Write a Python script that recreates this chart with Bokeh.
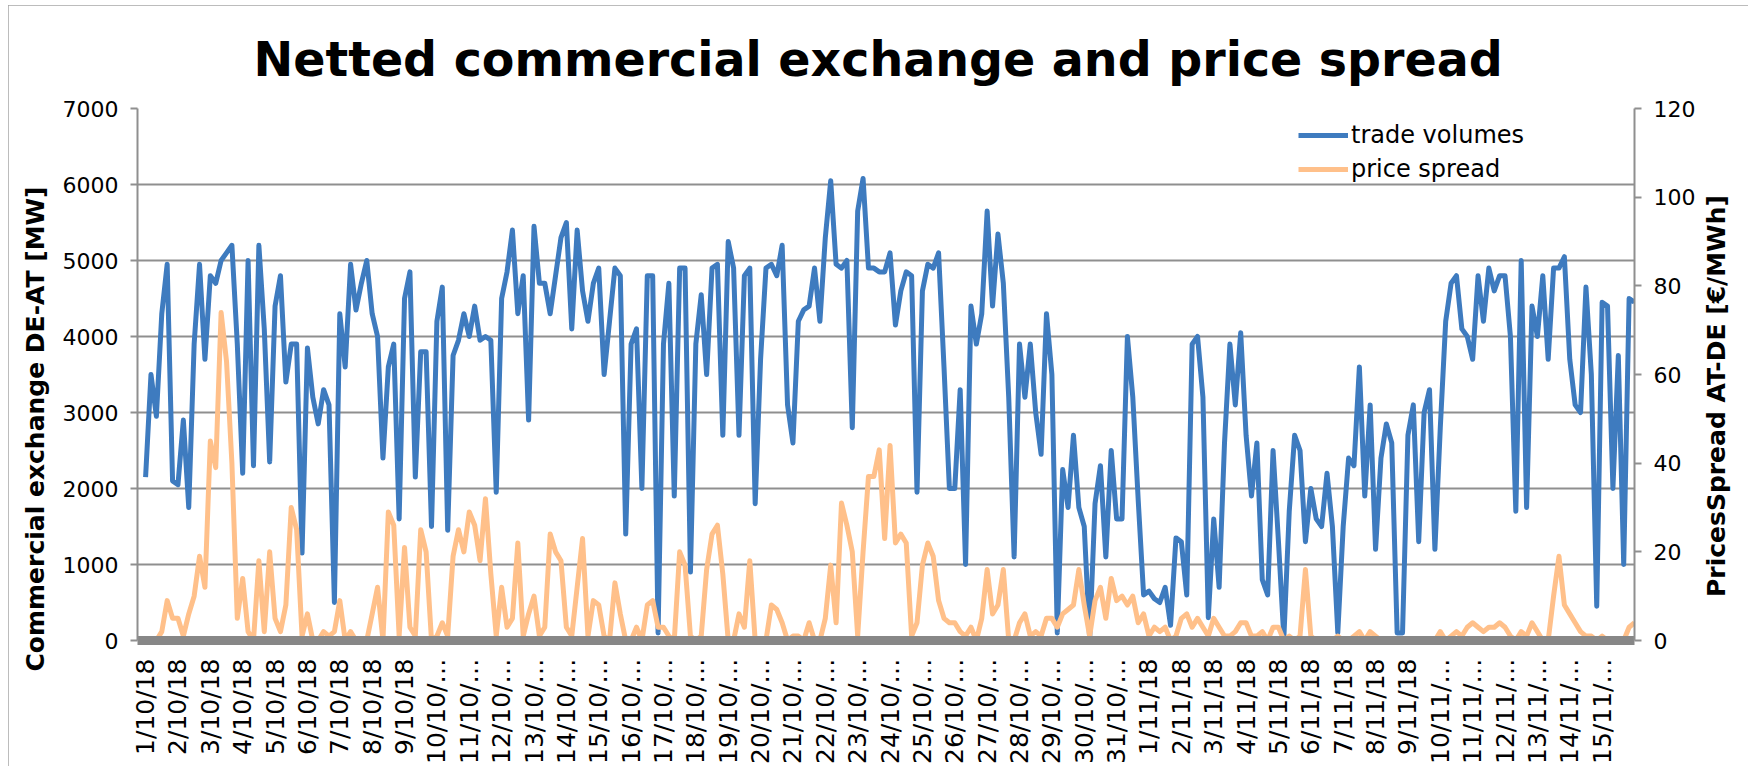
import math
from bokeh.plotting import figure
from bokeh.models import (Range1d, LinearAxis, FixedTicker, Legend, LegendItem,
                          ColumnDataSource, Title)
from bokeh.embed import file_html
from bokeh.resources import INLINE

# ---------------- data ----------------
day_labels = [
    "1/10/18", "2/10/18", "3/10/18", "4/10/18", "5/10/18", "6/10/18", "7/10/18",
    "8/10/18", "9/10/18", "10/10/…", "11/10/…", "12/10/…", "13/10/…", "14/10/…",
    "15/10/…", "16/10/…", "17/10/…", "18/10/…", "19/10/…", "20/10/…", "21/10/…",
    "22/10/…", "23/10/…", "24/10/…", "25/10/…", "26/10/…", "27/10/…", "28/10/…",
    "29/10/…", "30/10/…", "31/10/…", "1/11/18", "2/11/18", "3/11/18", "4/11/18",
    "5/11/18", "6/11/18", "7/11/18", "8/11/18", "9/11/18", "10/11/…", "11/11/…",
    "12/11/…", "13/11/…", "14/11/…", "15/11/…",
]
hours_per_step = 4

# netted commercial exchange DE-AT [MW], 4-hourly
trade_volumes = [
    2150, 3500, 2950, 4300, 4950, 2100,
    2050, 2900, 1750, 3900, 4950, 3700,
    4800, 4700, 5000, 5100, 5200, 3900,
    2200, 5000, 2300, 5200, 4100, 2350,
    4400, 4800, 3400, 3900, 3900, 1150,
    3850, 3200, 2850, 3300, 3100, 500,
    4300, 3600, 4950, 4350, 4700, 5000,
    4300, 4000, 2400, 3600, 3900, 1600,
    4500, 4850, 2150, 3800, 3800, 1500,
    4200, 4650, 1450, 3750, 3950, 4300,
    4000, 4400, 3950, 4000, 3950, 1950,
    4500, 4850, 5400, 4300, 4800, 2900,
    5450, 4700, 4700, 4300, 4800, 5300,
    5500, 4100, 5400, 4600, 4200, 4700,
    4900, 3500, 4200, 4900, 4800, 1400,
    3900, 4100, 2000, 4800, 4800, 100,
    3900, 4700, 1900, 4900, 4900, 900,
    3900, 4550, 3500, 4900, 4950, 2700,
    5250, 4900, 2700, 4800, 4900, 1800,
    3700, 4900, 4950, 4800, 5200, 3100,
    2600, 4200, 4350, 4400, 4900, 4200,
    5300, 6050, 4950, 4900, 5000, 2800,
    5650, 6080, 4900, 4900, 4850, 4850,
    5100, 4150, 4600, 4850, 4800, 1950,
    4600, 4950, 4900, 5100, 3600, 2000,
    2000, 3300, 1000, 4400, 3900, 4300,
    5650, 4400, 5350, 4700, 3200, 1100,
    3900, 3200, 3900, 3000, 2450, 4300,
    3500, 100, 2250, 1750, 2700, 1750,
    1500, 20, 1800, 2300, 1100, 2500,
    1600, 1600, 4000, 3200, 1850, 600,
    650, 550, 500, 700, 200, 1350,
    1300, 600, 3900, 4000, 3200, 300,
    1600, 700, 2600, 3900, 3100, 4050,
    2700, 1900, 2600, 800, 600, 2500,
    1300, 30, 1700, 2700, 2500, 1300,
    2000, 1600, 1500, 2200, 1500, 100,
    1500, 2400, 2300, 3600, 1900, 3100,
    1200, 2400, 2850, 2600, 100, 100,
    2700, 3100, 1300, 3000, 3300, 1200,
    2800, 4200, 4700, 4800, 4100, 4000,
    3700, 4800, 4200, 4900, 4600, 4800,
    4800, 4000, 1700, 5000, 1750, 4400,
    4000, 4800, 3700, 4900, 4900, 5050,
    3700, 3100, 3000, 4650, 3500, 450,
    4450, 4400, 2000, 3750, 1000, 4500,
    4450,
]

# price spread AT-DE [EUR/MWh], 4-hourly
price_spread = [
    0, 0, 0, 2, 9, 5,
    5, 1, 6, 10, 19, 12,
    45, 39, 74, 63, 40, 5,
    14, 2, 0, 18, 2, 20,
    5, 2, 8, 30, 25, 1,
    6, 0, 0, 2, 1, 2,
    9, 0, 2, 0, 0, 0,
    6, 12, 0, 29, 26, 1,
    21, 3, 1, 25, 20, 0,
    1, 4, 1, 19, 25, 20,
    29, 26, 18, 32, 15, 1,
    12, 3, 5, 22, 1, 6,
    10, 1, 3, 24, 20, 18,
    3, 1, 12, 23, 1, 9,
    8, 1, 0, 13, 6, 0,
    0, 3, 0, 8, 9, 3,
    3, 1, 0, 20, 17, 1,
    0, 1, 16, 24, 26, 15,
    0, 0, 6, 3, 18, 0,
    0, 0, 8, 7, 4, 0,
    1, 1, 0, 4, 0, 0,
    5, 17, 4, 31, 26, 20,
    1, 20, 37, 37, 43, 23,
    44, 22, 24, 22, 1, 4,
    17, 22, 19, 9, 5, 4,
    4, 2, 1, 3, 0, 5,
    16, 6, 8, 16, 0, 0,
    4, 6, 1, 2, 1, 5,
    5, 3, 6, 7, 8, 16,
    8, 1, 9, 12, 5, 14,
    9, 10, 8, 10, 4, 6,
    1, 3, 2, 3, 0, 1,
    5, 6, 3, 5, 3, 1,
    5, 3, 1, 1, 2, 4,
    4, 1, 1, 2, 0, 3,
    3, 0, 1, 0, 1, 16,
    1, 0, 0, 0, 0, 1,
    0, 0, 1, 2, 0, 2,
    1, 0, 0, 0, 0, 0,
    0, 0, 0, 0, 0, 0,
    2, 0, 1, 2, 1, 3,
    4, 3, 2, 3, 3, 4,
    3, 1, 0, 2, 1, 4,
    2, 0, 0, 10, 19, 8,
    6, 4, 2, 1, 1, 0,
    1, 0, 0, 0, 0, 3,
    4,
]

left_ticks = [0, 1000, 2000, 3000, 4000, 5000, 6000, 7000]
right_ticks = [0, 20, 40, 60, 80, 100, 120]
left_title_text = "Commercial exchange DE-AT [MW]"
right_title_text = "PricesSpread AT-DE [€/MWh]"

# ---------------- styling ----------------
FONT = "DejaVu Sans"
BLUE = "#3E7BBF"
ORANGE = "#FFC08A"
GRID = "#8F8F8F"

hours = [i * hours_per_step for i in range(len(trade_volumes))]
n_hours = hours[-1]
src = ColumnDataSource(dict(h=hours, tv=trade_volumes, ps=price_spread))

p = figure(width=1740, height=761,
           x_range=Range1d(-6, n_hours), y_range=Range1d(0, 7000),
           output_backend="svg", toolbar_location=None,
           min_border_left=128, min_border_right=105,
           min_border_top=103, min_border_bottom=120,
           title="Netted commercial exchange and price spread")
p.extra_y_ranges = {"price": Range1d(0, 120)}
p.outline_line_color = None
p.background_fill_color = "white"
p.border_fill_color = "white"
p.styles = {"margin": "5px 0 0 8px", "outline": "2px solid #a6a6a6",
            "outline-offset": "-2px"}

p.title.text_font = FONT
p.title.text_font_style = "bold"
p.title.text_font_size = "47.5px"
p.title.align = "left"
p.title.offset = 116
p.title.standoff = 44
p.title.text_color = "black"

# x axis
xa = p.xaxis[0]
xa.ticker = FixedTicker(ticks=[d * 24 for d in range(len(day_labels))])
xa.major_label_overrides = {d * 24: lab for d, lab in enumerate(day_labels)}
xa.major_label_orientation = math.pi / 2
xa.major_label_text_font = FONT
xa.major_label_text_font_size = "25px"
xa.major_label_text_color = "black"
xa.major_label_standoff = 12
xa.major_tick_line_color = None
xa.minor_tick_line_color = None
xa.axis_line_color = "#878787"
xa.axis_line_width = 9

# left axis
ya = p.yaxis[0]
ya.ticker = FixedTicker(ticks=left_ticks)
ya.major_label_text_font = FONT
ya.major_label_text_font_size = "22px"
ya.major_label_text_color = "black"
ya.major_label_standoff = 12
ya.major_tick_out = 7
ya.major_tick_in = 0
ya.major_tick_line_color = GRID
ya.major_tick_line_width = 2
ya.minor_tick_line_color = None
ya.axis_line_color = GRID
ya.axis_line_width = 2

p.xgrid.grid_line_color = None
p.ygrid.grid_line_color = GRID
p.ygrid.grid_line_width = 2
p.ygrid.ticker = FixedTicker(ticks=left_ticks)

# left axis title: reads bottom-to-top, placed a little below the frame centre
lt = Title(text=left_title_text, align="left", offset=-31, standoff=20,
           text_font=FONT, text_font_style="bold", text_font_size="25px",
           text_color="black")
p.add_layout(lt, "left")

# right axis
ra = LinearAxis(y_range_name="price", ticker=FixedTicker(ticks=right_ticks))
ra.major_label_text_font = FONT
ra.major_label_text_font_size = "22px"
ra.major_label_text_color = "black"
ra.major_label_standoff = 12
ra.major_tick_out = 7
ra.major_tick_in = 0
ra.major_tick_line_color = GRID
ra.major_tick_line_width = 2
ra.minor_tick_line_color = None
ra.axis_line_color = GRID
ra.axis_line_width = 2

if "axis_label_align" in ra.properties() and "axis_label_orientation" in ra.properties():
    ra.axis_label = "\u00a0" * 5 + right_title_text
    ra.axis_label_orientation = math.pi / 2
    ra.axis_label_align = "start"
    ra.axis_label_standoff = 18
    ra.axis_label_text_font = FONT
    ra.axis_label_text_font_style = "bold"
    ra.axis_label_text_font_size = "25px"
    ra.axis_label_text_color = "black"
    p.add_layout(ra, "right")
else:
    p.add_layout(ra, "right")
    rt = Title(text=right_title_text, align="center", standoff=10,
               text_font=FONT, text_font_style="bold", text_font_size="25px",
               text_color="black")
    p.add_layout(rt, "right")

r_tv = p.line("h", "tv", source=src, line_color=BLUE, line_width=5, line_join="round")
r_ps = p.line("h", "ps", source=src, y_range_name="price", line_color=ORANGE,
              line_width=5, line_join="round")

legend = Legend(items=[LegendItem(label="trade volumes", renderers=[r_tv]),
                       LegendItem(label="price spread", renderers=[r_ps])],
                location=(1161, 457), orientation="vertical")
legend.background_fill_alpha = 0
legend.border_line_color = None
legend.padding = 0
legend.margin = 0
legend.spacing = 6
legend.glyph_width = 50
legend.glyph_height = 26
legend.label_height = 26
legend.label_standoff = 3
legend.label_text_font = FONT
legend.label_text_font_size = "24px"
legend.label_text_color = "black"
p.add_layout(legend, "center")

open("out.html", "w").write(file_html(p, INLINE))
